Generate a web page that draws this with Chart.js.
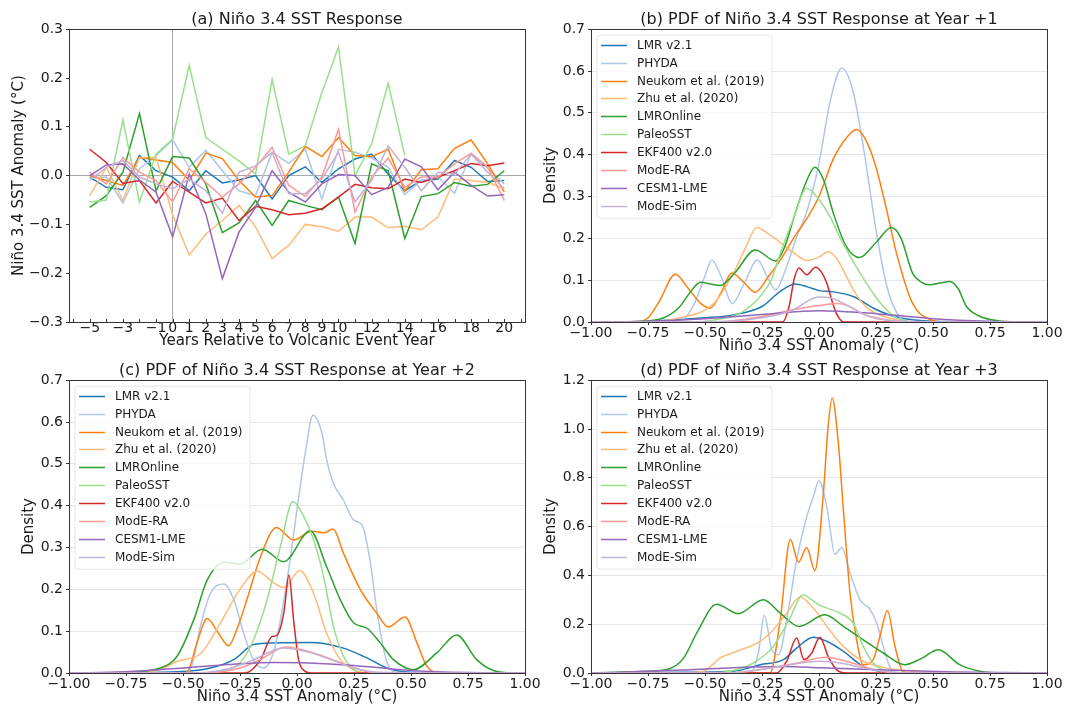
<!DOCTYPE html>
<html>
<head>
<meta charset="utf-8">
<script src="https://cdn.jsdelivr.net/npm/chart.js@4.4.1/dist/chart.umd.min.js"></script>
<style>
html,body{margin:0;padding:0;background:#ffffff;}
body{width:1065px;height:709px;position:relative;overflow:hidden;}
canvas{position:absolute;}
</style>
</head>
<body>
<canvas id="ca" width="535" height="355" style="left:0;top:0"></canvas>
<canvas id="cb" width="530" height="355" style="left:535px;top:0"></canvas>
<canvas id="cc" width="550" height="354" style="left:0;top:355px"></canvas>
<canvas id="cd" width="530" height="354" style="left:535px;top:355px"></canvas>
<script>
// ---------------- data ----------------
const seriesNames = ['LMR v2.1','PHYDA','Neukom et al. (2019)','Zhu et al. (2020)','LMROnline','PaleoSST','EKF400 v2.0','ModE-RA','CESM1-LME','ModE-Sim'];
const years = [-5,-4,-3,-2,-1,0,1,2,3,4,5,6,7,8,9,10,11,12,13,14,15,16,17,18,19,20];
const yearTicks = [-5,-3,-1,0,1,2,3,4,5,6,7,8,9,10,12,14,16,18,20];
const pdfTicksStep = 0.25;

// (a) composite response, one value per year
const a_LMR      = [-0.003,-0.024,-0.029,0.041,0.010,-0.003,-0.031,0.010,-0.015,-0.009,0.000,-0.048,0.000,0.018,-0.014,0.014,0.034,0.044,0.003,-0.031,-0.010,-0.007,0.031,0.017,-0.012,-0.010];
const a_PHYDA    = [-0.005,-0.003,-0.056,0.014,0.041,0.073,0.017,0.052,0.010,-0.031,-0.041,0.048,0.025,0.054,-0.048,0.054,0.048,0.036,0.017,-0.039,-0.010,-0.003,-0.036,0.044,0.015,-0.017];
const a_Neukom   = [0.000,-0.010,-0.020,0.037,0.032,0.027,-0.010,0.046,0.035,-0.010,-0.044,-0.041,0.007,0.060,0.039,0.078,0.041,0.039,0.054,-0.032,0.012,0.014,0.056,0.073,0.024,-0.034];
const a_Zhu      = [-0.041,0.017,-0.051,0.037,0.037,-0.080,-0.163,-0.120,-0.092,-0.061,-0.105,-0.170,-0.143,-0.100,-0.105,-0.114,-0.085,-0.085,-0.107,-0.104,-0.111,-0.085,-0.007,-0.010,-0.014,-0.027];
const a_LMROnline= [-0.065,-0.041,0.007,0.127,-0.031,0.039,0.036,-0.017,-0.117,-0.097,-0.051,-0.102,-0.051,-0.061,-0.070,-0.044,-0.139,0.024,0.010,-0.129,-0.043,-0.037,-0.014,-0.022,-0.018,0.010];
const a_PaleoSST = [-0.054,-0.050,0.114,-0.054,0.044,0.075,0.226,0.078,0.054,0.030,0.003,0.197,0.044,0.061,0.170,0.263,0.000,0.065,0.189,0.041,null,null,null,null,null,null];
const a_EKF400   = [0.054,0.027,-0.016,-0.010,-0.056,-0.012,-0.034,-0.056,-0.046,-0.092,-0.063,-0.070,-0.080,-0.077,-0.068,-0.044,-0.018,-0.025,-0.027,-0.007,-0.014,-0.003,0.010,0.025,0.020,0.026];
const a_ModERA   = [0.007,-0.017,0.037,0.007,-0.010,-0.054,0.014,-0.014,-0.044,-0.017,0.017,0.058,-0.020,-0.043,-0.003,0.095,-0.075,-0.003,0.036,-0.024,-0.003,-0.003,0.024,0.046,0.017,-0.051];
const a_CESM     = [0.000,0.022,0.024,-0.009,-0.034,-0.126,0.003,-0.078,-0.211,-0.116,-0.065,0.010,-0.034,-0.054,-0.017,0.002,0.000,-0.039,-0.024,0.034,0.018,-0.029,0.007,-0.020,-0.042,-0.039];
const a_ModESim  = [-0.010,0.017,0.031,-0.003,-0.017,-0.027,-0.007,-0.031,-0.077,0.007,0.020,0.048,-0.037,-0.037,-0.007,0.048,-0.054,-0.010,0.061,0.017,-0.031,0.007,0.003,0.044,0.007,-0.027];

// (b) PDF at year +1 : [anomaly, density]
const b_LMR      = [[-1,0],[-0.75,0.002],[-0.5,0.010],[-0.375,0.017],[-0.25,0.037],[-0.17,0.073],[-0.105,0.091],[-0.05,0.084],[0,0.075],[0.063,0.072],[0.15,0.061],[0.25,0.030],[0.355,0.010],[0.5,0.002],[1,0]];
const b_PHYDA    = [[-1,0],[-0.65,0],[-0.6,0.005],[-0.55,0.040],[-0.5,0.110],[-0.47,0.148],[-0.43,0.110],[-0.38,0.044],[-0.33,0.090],[-0.27,0.148],[-0.22,0.100],[-0.19,0.077],[-0.15,0.120],[-0.1,0.200],[-0.05,0.270],[0,0.380],[0.05,0.530],[0.1,0.607],[0.15,0.550],[0.2,0.400],[0.25,0.220],[0.3,0.080],[0.35,0.015],[0.4,0],[1,0]];
const b_Neukom   = [[-1,0],[-0.8,0],[-0.75,0.010],[-0.7,0.050],[-0.63,0.114],[-0.58,0.085],[-0.52,0.045],[-0.477,0.033],[-0.43,0.070],[-0.383,0.117],[-0.33,0.095],[-0.28,0.071],[-0.22,0.110],[-0.17,0.148],[-0.1,0.210],[-0.05,0.250],[0,0.300],[0.063,0.390],[0.12,0.440],[0.165,0.460],[0.21,0.430],[0.25,0.370],[0.3,0.260],[0.34,0.164],[0.41,0.045],[0.486,0.006],[0.55,0],[1,0]];
const b_Zhu      = [[-1,0],[-0.75,0],[-0.61,0.010],[-0.46,0.045],[-0.375,0.117],[-0.32,0.180],[-0.273,0.226],[-0.22,0.210],[-0.17,0.190],[-0.11,0.165],[-0.054,0.147],[0,0.155],[0.04,0.168],[0.08,0.150],[0.12,0.109],[0.17,0.060],[0.22,0.030],[0.34,0.005],[0.45,0],[1,0]];
const b_LMROnline= [[-1,0],[-0.8,0.001],[-0.68,0.010],[-0.61,0.037],[-0.56,0.075],[-0.52,0.095],[-0.47,0.090],[-0.434,0.087],[-0.37,0.117],[-0.28,0.172],[-0.19,0.146],[-0.15,0.180],[-0.11,0.250],[-0.06,0.330],[-0.018,0.370],[0.02,0.340],[0.063,0.260],[0.12,0.180],[0.177,0.154],[0.25,0.190],[0.318,0.226],[0.36,0.200],[0.41,0.117],[0.45,0.095],[0.486,0.089],[0.53,0.093],[0.574,0.097],[0.61,0.080],[0.647,0.037],[0.7,0.015],[0.75,0.006],[0.85,0],[1,0]];
const b_PaleoSST = [[-1,0],[-0.55,0],[-0.46,0.005],[-0.35,0.020],[-0.26,0.060],[-0.21,0.100],[-0.17,0.164],[-0.11,0.250],[-0.054,0.320],[0.004,0.290],[0.05,0.250],[0.09,0.204],[0.18,0.117],[0.27,0.045],[0.34,0.010],[0.42,0],[1,0]];
const b_EKF400   = [[-1,0],[-0.16,0],[-0.13,0.040],[-0.11,0.100],[-0.088,0.129],[-0.054,0.113],[-0.015,0.131],[0.01,0.120],[0.034,0.093],[0.06,0.045],[0.077,0.020],[0.107,0],[1,0]];
const b_ModERA   = [[-1,0],[-0.45,0],[-0.375,0.003],[-0.25,0.013],[-0.11,0.030],[0.034,0.042],[0.08,0.044],[0.13,0.038],[0.19,0.020],[0.3,0.005],[0.4,0],[1,0]];
const b_CESM     = [[-1,0],[-0.75,0.002],[-0.5,0.008],[-0.25,0.018],[0,0.027],[0.25,0.020],[0.5,0.008],[0.75,0.002],[1,0]];
const b_ModESim  = [[-1,0],[-0.4,0.002],[-0.25,0.010],[-0.11,0.030],[-0.05,0.050],[0,0.060],[0.05,0.058],[0.12,0.041],[0.22,0.013],[0.35,0.002],[1,0]];

// (c) PDF at year +2
const c_LMR      = [[-1,0],[-0.526,0.003],[-0.38,0.012],[-0.277,0.032],[-0.19,0.068],[-0.1,0.072],[0.058,0.073],[0.2,0.060],[0.307,0.036],[0.394,0.012],[0.5,0.002],[1,0]];
const c_PHYDA    = [[-1,0],[-0.5,0],[-0.467,0.010],[-0.42,0.120],[-0.38,0.190],[-0.32,0.213],[-0.277,0.175],[-0.234,0.095],[-0.19,0.030],[-0.146,0.012],[-0.1,0.056],[-0.044,0.220],[0,0.390],[0.036,0.525],[0.07,0.616],[0.11,0.572],[0.13,0.510],[0.16,0.453],[0.204,0.413],[0.248,0.366],[0.285,0.354],[0.32,0.270],[0.35,0.150],[0.387,0.040],[0.42,0.004],[0.47,0],[1,0]];
const c_Neukom   = [[-1,0],[-0.5,0],[-0.48,0.003],[-0.44,0.070],[-0.394,0.130],[-0.35,0.100],[-0.3,0.065],[-0.26,0.110],[-0.22,0.175],[-0.16,0.278],[-0.09,0.348],[-0.015,0.318],[0.066,0.339],[0.117,0.335],[0.158,0.344],[0.204,0.286],[0.277,0.200],[0.35,0.143],[0.4,0.110],[0.474,0.134],[0.526,0.072],[0.57,0.016],[0.628,0],[1,0]];
const c_Zhu      = [[-1,0],[-0.7,0],[-0.6,0.008],[-0.526,0.028],[-0.42,0.048],[-0.336,0.120],[-0.25,0.200],[-0.175,0.243],[-0.1,0.215],[-0.058,0.204],[0.012,0.245],[0.073,0.190],[0.13,0.095],[0.19,0.032],[0.248,0.008],[0.32,0],[1,0]];
const c_LMROnline= [[-1,0],[-0.745,0.002],[-0.6,0.012],[-0.526,0.040],[-0.453,0.127],[-0.394,0.222],[-0.32,0.265],[-0.25,0.260],[-0.153,0.296],[-0.058,0.266],[0.058,0.340],[0.13,0.254],[0.19,0.175],[0.248,0.120],[0.307,0.107],[0.365,0.072],[0.423,0.032],[0.51,0.008],[0.613,0.048],[0.7,0.091],[0.788,0.032],[0.861,0.006],[0.95,0],[1,0]];
const c_PaleoSST = [[-1,0],[-0.4,0],[-0.336,0.005],[-0.25,0.024],[-0.19,0.080],[-0.131,0.175],[-0.073,0.302],[-0.018,0.410],[0.03,0.374],[0.073,0.318],[0.117,0.230],[0.16,0.111],[0.204,0.040],[0.248,0.008],[0.3,0],[1,0]];
const c_EKF400   = [[-1,0],[-0.226,0],[-0.16,0.032],[-0.11,0.087],[-0.088,0.090],[-0.058,0.143],[-0.035,0.234],[-0.015,0.127],[0.007,0.032],[0.036,0.004],[0.06,0],[1,0]];
const c_ModERA   = [[-1,0],[-0.4,0],[-0.25,0.012],[-0.16,0.032],[-0.05,0.062],[0.073,0.048],[0.175,0.028],[0.277,0.008],[0.35,0],[1,0]];
const c_CESM     = [[-1,0],[-0.75,0.003],[-0.5,0.012],[-0.25,0.022],[-0.1,0.025],[0.05,0.024],[0.25,0.018],[0.5,0.006],[0.75,0.001],[1,0]];
const c_ModESim  = [[-1,0],[-0.45,0],[-0.3,0.010],[-0.19,0.032],[-0.06,0.060],[0.05,0.050],[0.13,0.036],[0.25,0.012],[0.35,0.002],[1,0]];

// (d) PDF at year +3
const d_LMR      = [[-1,0],[-0.6,0.003],[-0.375,0.007],[-0.258,0.034],[-0.156,0.055],[-0.098,0.102],[-0.025,0.147],[0.034,0.130],[0.107,0.089],[0.194,0.027],[0.267,0.007],[0.4,0],[1,0]];
const d_PHYDA    = [[-1,0],[-0.303,0],[-0.266,0.082],[-0.24,0.237],[-0.207,0.095],[-0.177,0.075],[-0.142,0.218],[-0.098,0.463],[-0.054,0.640],[-0.025,0.722],[0,0.788],[0.034,0.682],[0.07,0.487],[0.1,0.514],[0.136,0.409],[0.18,0.300],[0.223,0.262],[0.253,0.205],[0.282,0.109],[0.31,0.027],[0.34,0],[1,0]];
const d_Neukom   = [[-1,0],[-0.215,0],[-0.17,0.218],[-0.126,0.548],[-0.09,0.454],[-0.054,0.514],[-0.018,0.420],[0.019,0.736],[0.04,1.010],[0.058,1.127],[0.085,0.940],[0.107,0.668],[0.136,0.327],[0.165,0.136],[0.194,0.034],[0.238,0.055],[0.267,0.150],[0.3,0.255],[0.333,0.110],[0.362,0.014],[0.384,0],[1,0]];
const d_Zhu      = [[-1,0],[-0.6,0],[-0.507,0.007],[-0.434,0.061],[-0.36,0.089],[-0.258,0.130],[-0.2,0.177],[-0.142,0.245],[-0.083,0.311],[-0.025,0.266],[0.034,0.191],[0.107,0.109],[0.194,0.048],[0.296,0.020],[0.413,0.007],[0.5,0],[1,0]];
const d_LMROnline= [[-1,0],[-0.755,0.007],[-0.667,0.014],[-0.594,0.061],[-0.536,0.164],[-0.449,0.282],[-0.355,0.243],[-0.244,0.300],[-0.17,0.245],[-0.088,0.191],[0.026,0.239],[0.107,0.191],[0.194,0.136],[0.282,0.082],[0.377,0.034],[0.45,0.060],[0.523,0.095],[0.617,0.034],[0.705,0.007],[0.8,0],[1,0]];
const d_PaleoSST = [[-1,0],[-0.5,0],[-0.39,0.007],[-0.288,0.041],[-0.2,0.109],[-0.127,0.225],[-0.072,0.320],[0,0.279],[0.092,0.245],[0.15,0.205],[0.194,0.109],[0.238,0.041],[0.296,0.007],[0.35,0],[1,0]];
const d_EKF400   = [[-1,0],[-0.185,0],[-0.142,0.048],[-0.098,0.143],[-0.066,0.055],[-0.032,0.082],[0.004,0.147],[0.04,0.068],[0.077,0.014],[0.12,0],[1,0]];
const d_ModERA   = [[-1,0],[-0.4,0],[-0.25,0.015],[-0.1,0.040],[0.03,0.065],[0.15,0.040],[0.25,0.012],[0.35,0],[1,0]];
const d_CESM     = [[-1,0],[-0.9,0.002],[-0.6,0.012],[-0.3,0.025],[-0.15,0.027],[0,0.022],[0.3,0.012],[0.6,0.004],[0.9,0.001],[1,0]];
const d_ModESim  = [[-1,0],[-0.4,0],[-0.3,0.008],[-0.15,0.030],[0,0.048],[0.1,0.040],[0.2,0.020],[0.3,0.005],[0.4,0],[1,0]];

// ---------------- styling ----------------
const colors = ['#1f77b4','#aec7e8','#ff7f0e','#ffbb78','#2ca02c','#98df8a','#d62728','#ff9896','#9467bd','#c5b0d5'];
const FONT = "'DejaVu Sans', 'Liberation Sans', sans-serif";
Chart.defaults.font.family = FONT;
Chart.defaults.color = '#1a1a1a';

function fmt(v, d) {
  const s = Math.abs(v).toFixed(d);
  return (v < 0 && parseFloat(s) !== 0 ? '\u2212' : '') + s;
}

const framePlugin = {
  id: 'frame',
  afterDraw(chart, args, opts) {
    const ctx = chart.ctx;
    const ca = chart.chartArea;
    ctx.save();
    if (opts.minorX) {
      const xs = chart.scales.x;
      ctx.strokeStyle = '#333333';
      ctx.lineWidth = 1;
      for (let v = Math.ceil(xs.min); v <= Math.floor(xs.max); v++) {
        const px = Math.round(xs.getPixelForValue(v)) + 0.5;
        ctx.beginPath();
        ctx.moveTo(px, ca.bottom);
        ctx.lineTo(px, ca.bottom - 3);
        ctx.stroke();
      }
    }
    ctx.strokeStyle = '#333333';
    ctx.lineWidth = 1;
    ctx.strokeRect(Math.round(ca.left) + 0.5, Math.round(ca.top) + 0.5,
                   Math.round(ca.right) - Math.round(ca.left), Math.round(ca.bottom) - Math.round(ca.top));
    if (opts.legend) {
      const bx = ca.left + 6, by = ca.top + 6, bw = 175, bh = 183, r = 3;
      ctx.beginPath();
      ctx.moveTo(bx + r, by);
      ctx.lineTo(bx + bw - r, by); ctx.arcTo(bx + bw, by, bx + bw, by + r, r);
      ctx.lineTo(bx + bw, by + bh - r); ctx.arcTo(bx + bw, by + bh, bx + bw - r, by + bh, r);
      ctx.lineTo(bx + r, by + bh); ctx.arcTo(bx, by + bh, bx, by + bh - r, r);
      ctx.lineTo(bx, by + r); ctx.arcTo(bx, by, bx + r, by, r);
      ctx.closePath();
      ctx.fillStyle = 'rgba(255,255,255,0.8)';
      ctx.fill();
      ctx.strokeStyle = '#e6e6e6';
      ctx.stroke();
      ctx.font = '12px ' + FONT;
      ctx.textBaseline = 'middle';
      ctx.textAlign = 'left';
      chart.data.datasets.forEach((ds, i) => {
        const y = Math.round(ca.top + 15.5 + 17.9 * i) + 0.5;
        ctx.strokeStyle = ds.borderColor;
        ctx.lineWidth = 1.5;
        ctx.beginPath();
        ctx.moveTo(ca.left + 10, y);
        ctx.lineTo(ca.left + 36, y);
        ctx.stroke();
        ctx.fillStyle = '#1a1a1a';
        ctx.fillText(ds.label, ca.left + 46, y);
      });
    }
    ctx.restore();
  }
};

function lineDatasets(list, pdf) {
  return list.map((arr, i) => ({
    label: seriesNames[i],
    data: pdf ? arr.map(p => ({x: p[0], y: p[1]})) : years.map((yr, j) => ({x: yr, y: arr[j]})),
    borderColor: colors[i],
    backgroundColor: colors[i],
    borderWidth: 1.5,
    pointRadius: 0,
    fill: false,
    tension: 0,
    cubicInterpolationMode: pdf ? 'monotone' : 'default',
    spanGaps: false,
    order: 20 - i
  }));
}

function makeChart(id, p) {
  const isA = p.kind === 'a';
  const zeroColor = c => (c.tick && Math.abs(c.tick.value) < 1e-9) ? '#a8a8a8' : 'rgba(0,0,0,0)';
  return new Chart(document.getElementById(id), {
    type: 'line',
    data: {datasets: p.datasets},
    plugins: [framePlugin],
    options: {
      responsive: false,
      animation: false,
      devicePixelRatio: 1,
      events: [],
      layout: {padding: {left: 0, right: p.padRight, top: 0, bottom: 0}},
      plugins: {
        legend: {display: false},
        tooltip: {enabled: false},
        title: {display: true, text: p.title, fullSize: false, color: '#1a1a1a',
                font: {size: 16, weight: 'normal', lineHeight: 1.2}, padding: {top: p.titleTop, bottom: 0}},
        frame: {legend: !isA, minorX: isA}
      },
      scales: {
        x: {
          type: 'linear',
          min: isA ? -6.25 : -1,
          max: isA ? 21.25 : 1,
          afterFit: s => { s.height = p.xH; },
          afterBuildTicks: isA ? (s => { s.ticks = yearTicks.map(v => ({value: v})); }) : undefined,
          border: {display: false},
          grid: isA ? {color: zeroColor, lineWidth: 1, drawTicks: false}
                    : {drawOnChartArea: false, tickColor: '#333333', tickLength: 3},
          ticks: {
            autoSkip: false, maxRotation: 0, minRotation: 0,
            stepSize: isA ? 1 : pdfTicksStep,
            padding: isA ? -1 : 1,
            color: '#1a1a1a',
            font: {size: 14, lineHeight: 1},
            callback: v => isA ? fmt(v, 0) : fmt(v, 2)
          },
          title: {display: true, text: p.xlabel, color: '#1a1a1a', font: {size: 15, lineHeight: 1.2},
                  padding: {top: 0, bottom: p.xTitlePad}}
        },
        y: {
          min: p.ymin, max: p.ymax,
          afterFit: s => { s.width = p.yW; },
          border: {display: false},
          grid: isA ? {color: zeroColor, lineWidth: 1, tickColor: '#333333', tickLength: 3}
                    : {color: '#e6e6e6', lineWidth: 1, tickColor: '#333333', tickLength: 3},
          ticks: {
            stepSize: p.ystep, padding: 3, color: '#1a1a1a',
            font: {size: 14, lineHeight: 1},
            callback: v => fmt(v, 1)
          },
          title: {display: true, text: p.ylabel, color: '#1a1a1a', font: {size: 15, lineHeight: 1.2},
                  padding: {top: p.yTitlePad, bottom: 0}}
        }
      }
    }
  });
}

makeChart('ca', {
  kind: 'a', title: '(a) Niño 3.4 SST Response',
  datasets: lineDatasets([a_LMR, a_PHYDA, a_Neukom, a_Zhu, a_LMROnline, a_PaleoSST, a_EKF400, a_ModERA, a_CESM, a_ModESim], false),
  xlabel: 'Years Relative to Volcanic Event Year', ylabel: 'Niño 3.4 SST Anomaly (°C)',
  ymin: -0.3, ymax: 0.3, ystep: 0.1,
  padRight: 10, titleTop: 10, xH: 33, yW: 69, xTitlePad: 5, yTitlePad: 10
});
makeChart('cb', {
  kind: 'pdf', title: '(b) PDF of Niño 3.4 SST Response at Year +1',
  datasets: lineDatasets([b_LMR, b_PHYDA, b_Neukom, b_Zhu, b_LMROnline, b_PaleoSST, b_EKF400, b_ModERA, b_CESM, b_ModESim], true),
  xlabel: 'Niño 3.4 SST Anomaly (°C)', ylabel: 'Density',
  ymin: 0, ymax: 0.7, ystep: 0.1,
  padRight: 18, titleTop: 10, xH: 33, yW: 56, xTitlePad: 0, yTitlePad: 7
});
makeChart('cc', {
  kind: 'pdf', title: '(c) PDF of Niño 3.4 SST Response at Year +2',
  datasets: lineDatasets([c_LMR, c_PHYDA, c_Neukom, c_Zhu, c_LMROnline, c_PaleoSST, c_EKF400, c_ModERA, c_CESM, c_ModESim], true),
  xlabel: 'Niño 3.4 SST Anomaly (°C)', ylabel: 'Density',
  ymin: 0, ymax: 0.7, ystep: 0.1,
  padRight: 25, titleTop: 6, xH: 36, yW: 69, xTitlePad: 2.5, yTitlePad: 20
});
makeChart('cd', {
  kind: 'pdf', title: '(d) PDF of Niño 3.4 SST Response at Year +3',
  datasets: lineDatasets([d_LMR, d_PHYDA, d_Neukom, d_Zhu, d_LMROnline, d_PaleoSST, d_EKF400, d_ModERA, d_CESM, d_ModESim], true),
  xlabel: 'Niño 3.4 SST Anomaly (°C)', ylabel: 'Density',
  ymin: 0, ymax: 1.2, ystep: 0.2,
  padRight: 18, titleTop: 6, xH: 36, yW: 56, xTitlePad: 2.5, yTitlePad: 7
});
</script>
</body>
</html>
